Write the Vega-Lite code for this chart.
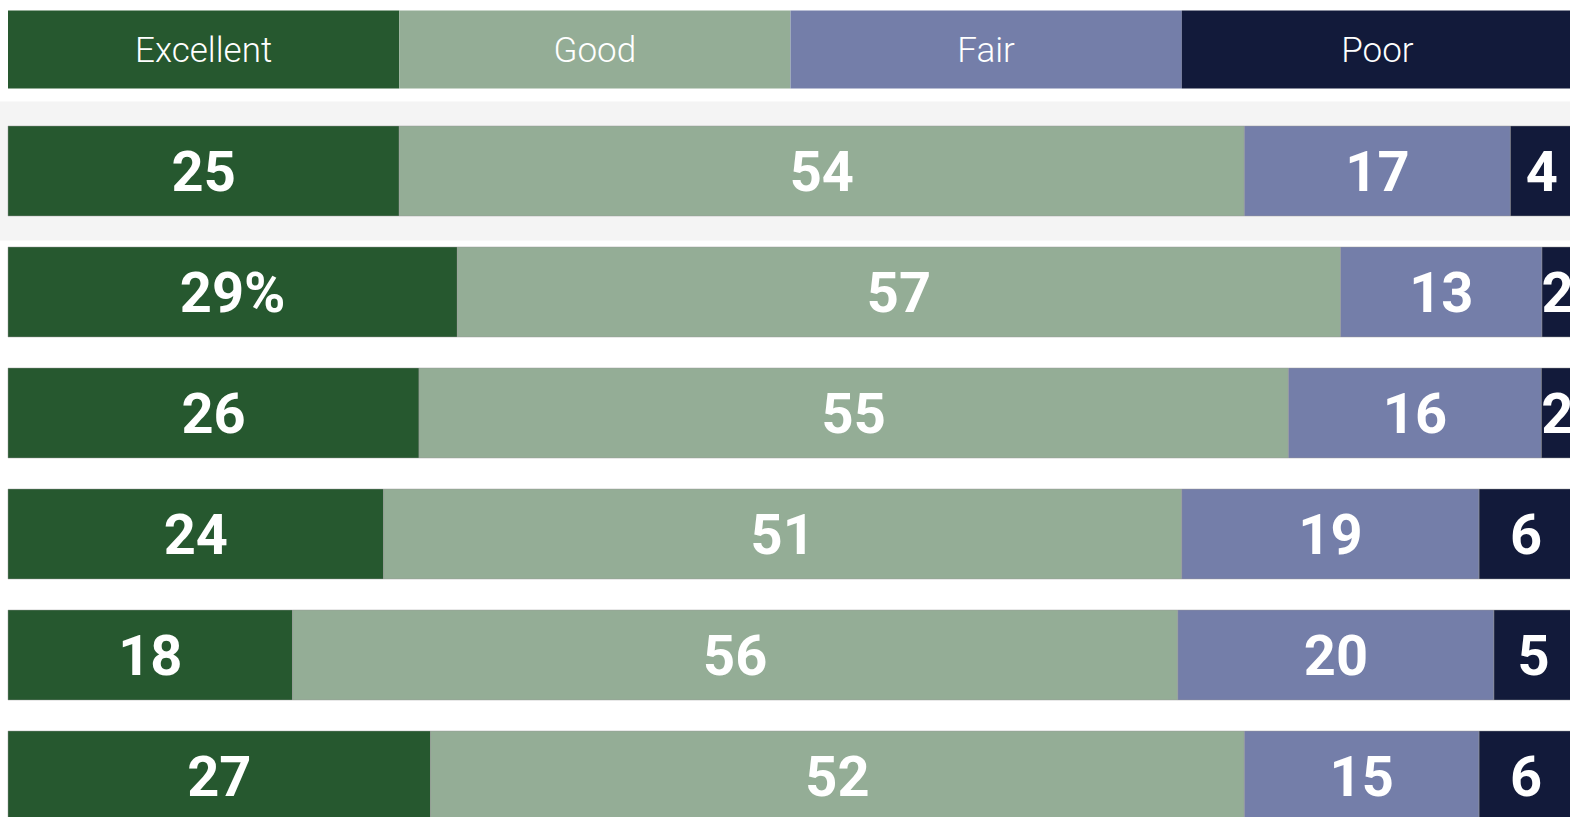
{
  "$schema": "https://vega.github.io/schema/vega-lite/v6.json",
  "width": 1570,
  "height": 817,
  "autosize": {"type": "none"},
  "padding": 0,
  "background": "white",
  "config": {"view": {"stroke": null}},
  "datasets": {
    "ratings": [
      {"row": "Row 1", "category": "Excellent", "value": 25, "label": "25"},
      {"row": "Row 1", "category": "Good", "value": 54, "label": "54"},
      {"row": "Row 1", "category": "Fair", "value": 17, "label": "17"},
      {"row": "Row 1", "category": "Poor", "value": 4, "label": "4"},
      {"row": "Row 2", "category": "Excellent", "value": 29, "label": "29%"},
      {"row": "Row 2", "category": "Good", "value": 57, "label": "57"},
      {"row": "Row 2", "category": "Fair", "value": 13, "label": "13"},
      {"row": "Row 2", "category": "Poor", "value": 2, "label": "2"},
      {"row": "Row 3", "category": "Excellent", "value": 26, "label": "26"},
      {"row": "Row 3", "category": "Good", "value": 55, "label": "55"},
      {"row": "Row 3", "category": "Fair", "value": 16, "label": "16"},
      {"row": "Row 3", "category": "Poor", "value": 2, "label": "2"},
      {"row": "Row 4", "category": "Excellent", "value": 24, "label": "24"},
      {"row": "Row 4", "category": "Good", "value": 51, "label": "51"},
      {"row": "Row 4", "category": "Fair", "value": 19, "label": "19"},
      {"row": "Row 4", "category": "Poor", "value": 6, "label": "6"},
      {"row": "Row 5", "category": "Excellent", "value": 18, "label": "18"},
      {"row": "Row 5", "category": "Good", "value": 56, "label": "56"},
      {"row": "Row 5", "category": "Fair", "value": 20, "label": "20"},
      {"row": "Row 5", "category": "Poor", "value": 5, "label": "5"},
      {"row": "Row 6", "category": "Excellent", "value": 27, "label": "27"},
      {"row": "Row 6", "category": "Good", "value": 52, "label": "52"},
      {"row": "Row 6", "category": "Fair", "value": 15, "label": "15"},
      {"row": "Row 6", "category": "Poor", "value": 6, "label": "6"}
    ],
    "legendRow": [
      {"row": "Legend", "category": "Excellent", "value": 1},
      {"row": "Legend", "category": "Good", "value": 1},
      {"row": "Legend", "category": "Fair", "value": 1},
      {"row": "Legend", "category": "Poor", "value": 1}
    ],
    "highlight": [{"row": "Row 1"}]
  },
  "layer": [
    {
      "data": {"name": "highlight"},
      "mark": {"type": "bar", "color": "#f4f4f4", "height": {"band": 1.5444}},
      "encoding": {
        "y": {"field": "row", "type": "ordinal", "axis": null,
          "scale": {"domain": ["Legend", "Row 1", "Row 2", "Row 3", "Row 4", "Row 5", "Row 6"], "range": [0, 826], "paddingInner": 0.2562, "paddingOuter": 0.0413}}
      }
    },
    {
      "data": {"name": "legendRow"},
      "transform": [
        {"calculate": "indexof(['Excellent','Good','Fair','Poor'], datum.category)", "as": "order"},
        {"stack": "value", "groupby": ["row"], "sort": [{"field": "order", "order": "ascending"}], "offset": "normalize", "as": ["x0", "x1"]},
        {"calculate": "(datum.x0 + datum.x1) / 2", "as": "mid"}
      ],
      "layer": [
        {
          "mark": {"type": "bar", "height": {"band": 0.8667}, "yOffset": -0.5, "clip": true},
          "encoding": {
            "y": {"field": "row", "type": "ordinal", "axis": null},
            "x": {"field": "x0", "type": "quantitative", "axis": null, "scale": {"domain": [-0.005112, 0.998083], "nice": false, "zero": false}},
            "x2": {"field": "x1"},
            "color": {"field": "category", "type": "nominal", "legend": null,
              "scale": {"domain": ["Excellent", "Good", "Fair", "Poor"], "range": ["#26582f", "#94ad96", "#747ea9", "#121a3a"]}}
          }
        },
        {
          "mark": {"type": "text", "font": "Roboto", "fontWeight": 300, "fontSize": 35, "color": "white", "baseline": "middle", "align": "center", "dy": 1, "clip": true},
          "encoding": {
            "y": {"field": "row", "type": "ordinal", "axis": null},
            "x": {"field": "mid", "type": "quantitative", "axis": null},
            "text": {"field": "category"}
          }
        }
      ]
    },
    {
      "data": {"name": "ratings"},
      "transform": [
        {"calculate": "indexof(['Excellent','Good','Fair','Poor'], datum.category)", "as": "order"},
        {"stack": "value", "groupby": ["row"], "sort": [{"field": "order", "order": "ascending"}], "offset": "normalize", "as": ["x0", "x1"]},
        {"calculate": "(datum.x0 + datum.x1) / 2", "as": "mid"}
      ],
      "layer": [
        {
          "mark": {"type": "bar", "clip": true, "stroke": "#9a9a9a", "strokeOpacity": 0.45, "strokeWidth": 1},
          "encoding": {
            "y": {"field": "row", "type": "ordinal", "axis": null},
            "x": {"field": "x0", "type": "quantitative", "axis": null},
            "x2": {"field": "x1"},
            "color": {"field": "category", "type": "nominal", "legend": null,
              "scale": {"domain": ["Excellent", "Good", "Fair", "Poor"], "range": ["#26582f", "#94ad96", "#7883b0", "#121a3a"]}}
          }
        },
        {
          "mark": {"type": "text", "font": "Roboto", "fontWeight": "bold", "fontSize": 56, "color": "white", "baseline": "middle", "align": "center", "dy": 3, "clip": true},
          "encoding": {
            "y": {"field": "row", "type": "ordinal", "axis": null},
            "x": {"field": "mid", "type": "quantitative", "axis": null},
            "text": {"field": "label"}
          }
        }
      ]
    }
  ]
}
